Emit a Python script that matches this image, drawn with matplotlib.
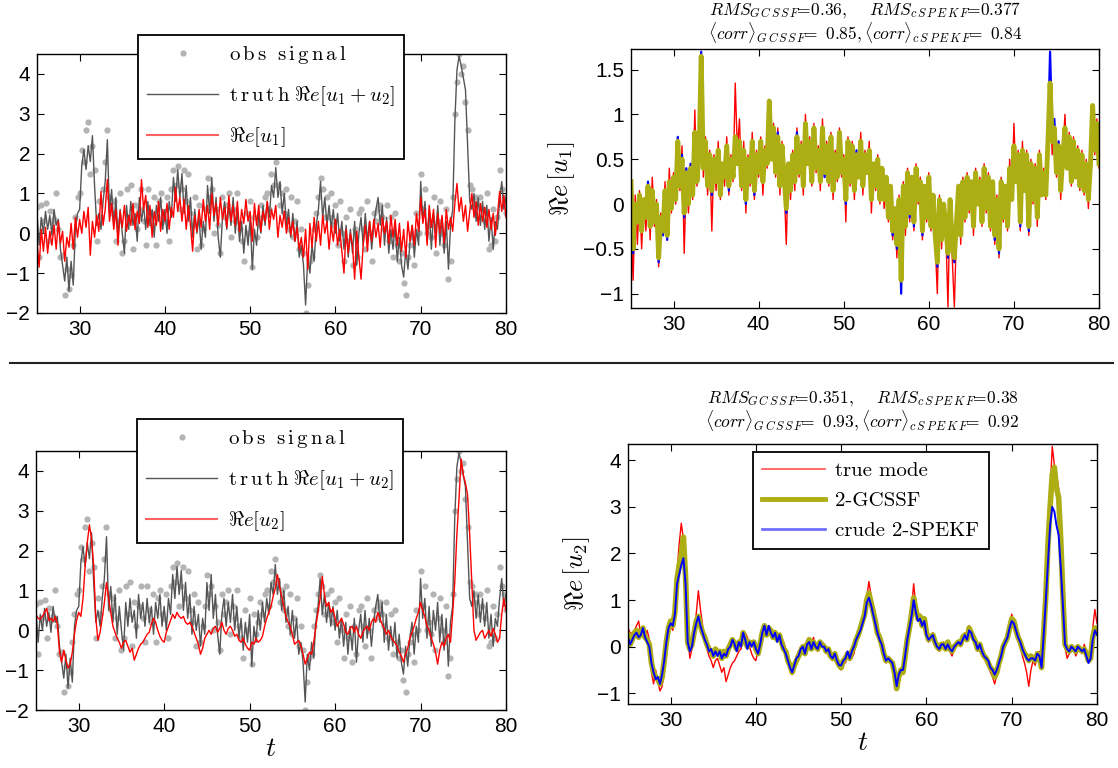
import numpy as np
import matplotlib.pyplot as plt
from matplotlib.lines import Line2D
from matplotlib.ticker import FuncFormatter

plt.rcParams['mathtext.fontset'] = 'cm'
plt.rcParams['font.family'] = ['Liberation Sans', 'DejaVu Sans']

# time grid of the stored samples
t = 25 + 0.25 * np.arange(221)

# Re[u1]: truth, 2-GCSSF estimate, crude 2-SPEKF estimate
u1_true = [
    -0.20, -0.85, 0.10, -0.45, 0.15, -0.50, 0.05, -0.30, 0.20, -0.40, 0.30, -0.25,
    0.05, -0.70, -0.10, -0.35, 0.25, -0.40, 0.40, -0.10, 0.35, 0.00, 0.55, 0.15,
    0.65, -0.55, 0.30, -0.10, 0.45, 0.05, 1.05, 0.20, 0.60, 1.35, 0.30, 0.75,
    0.10, 0.60, -0.30, 0.55, 0.15, 0.70, 0.05, 0.45, 0.20, 0.75, 0.10, 0.55,
    0.25, 1.35, 0.60, 0.95, 0.15, 0.70, -0.10, 0.55, 0.20, 0.80, 0.05, 0.60,
    0.30, 0.75, 0.10, 0.65, 0.40, 1.15, 0.55, 0.90, 0.30, 0.85, 0.10, 0.70,
    0.20, -0.45, 0.45, 0.05, 0.60, 0.15, 0.85, 0.30, 0.70, 0.10, 1.00, 0.45,
    0.75, 0.20, 0.90, 0.35, 0.65, 0.15, 0.95, 0.30, 0.70, 0.20, 0.80, 0.05,
    0.60, 0.25, 0.85, 0.30, 0.55, -0.20, 0.75, 0.20, 0.70, 0.05, 0.55, 0.30,
    0.80, 0.10, 0.60, 0.35, 0.70, -0.10, 0.45, 0.15, 0.55, 0.00, 0.40, -0.05,
    0.30, -0.20, 0.15, -0.40, -0.10, -0.60, 0.10, -0.90, 0.25, -0.35, 0.40, -0.20,
    0.30, -0.30, 0.45, 0.00, 0.30, -0.40, 0.20, -0.20, 0.35, -0.30, 0.10, -0.45,
    -1.00, 0.10, -0.50, 0.00, -0.30, -1.15, 0.05, -0.60, -1.15, -0.30, 0.20, -0.45,
    0.30, -0.20, 0.35, -0.10, 0.25, -0.35, 0.40, 0.00, 0.30, -0.25, 0.45, -0.10,
    0.35, -0.30, 0.25, -0.45, 0.10, -0.60, 0.30, -0.20, 0.20, -0.30, 0.50, 0.05,
    0.90, 0.25, 0.60, -0.30, 0.70, 0.15, 0.60, -0.35, 0.50, 0.00, 0.45, -0.25,
    0.60, 0.10, 0.40, 0.05, 0.75, 1.25, 0.55, 0.90, 0.30, 0.70, 0.05, 0.55,
    1.00, 0.40, 0.80, 0.20, 0.75, 0.30, 0.65, 0.15, 0.60, 0.10, 0.50, -0.05,
    0.45, 1.05, 0.55, 0.95, 0.40,
]
u1_gcssf = [
    0.25, -0.50, 0.00, -0.20, 0.10, -0.30, 0.05, -0.15, 0.20, -0.25, 0.15, -0.20,
    0.00, -0.60, -0.15, -0.30, 0.15, -0.35, 0.25, -0.05, 0.30, 0.05, 0.70, 0.20,
    0.50, -0.10, 0.35, 0.00, 0.40, 0.10, 0.80, 0.25, 0.55, 1.65, 0.40, 0.70,
    0.20, 0.55, 0.15, 0.50, 0.25, 0.60, 0.10, 0.45, 0.30, 0.65, 0.20, 0.50,
    0.30, 0.75, 0.45, 0.70, 0.20, 0.60, 0.05, 0.50, 0.25, 0.70, 0.15, 0.55,
    0.35, 0.70, 0.25, 0.60, 0.45, 1.15, 0.50, 0.85, 0.35, 0.75, 0.20, 0.65,
    0.30, -0.05, 0.45, 0.15, 0.55, 0.25, 0.75, 0.35, 0.65, 0.20, 0.90, 0.45,
    0.70, 0.25, 0.85, 0.40, 0.60, 0.25, 0.85, 0.35, 0.65, 0.25, 0.75, 0.15,
    0.55, 0.30, 0.80, 0.35, 0.50, 0.05, 0.70, 0.25, 0.65, 0.15, 0.55, 0.30,
    0.70, 0.20, 0.55, 0.35, 0.60, 0.05, 0.45, 0.20, 0.50, 0.05, 0.40, 0.05,
    0.30, -0.15, 0.20, -0.30, -0.05, -0.45, 0.05, -0.85, 0.20, -0.25, 0.35, -0.10,
    0.30, -0.20, 0.40, 0.05, 0.25, -0.30, 0.20, -0.15, 0.30, -0.25, 0.10, -0.35,
    -0.65, 0.05, -0.40, 0.00, -0.25, -0.55, 0.05, -0.45, -0.60, -0.20, 0.20, -0.35,
    0.25, -0.15, 0.30, -0.05, 0.25, -0.25, 0.35, 0.00, 0.25, -0.20, 0.40, -0.05,
    0.30, -0.25, 0.25, -0.35, 0.05, -0.50, 0.25, -0.15, 0.20, -0.25, 0.40, 0.05,
    0.65, 0.25, 0.55, -0.20, 0.60, 0.15, 0.55, -0.25, 0.45, 0.05, 0.40, -0.15,
    0.55, 0.10, 0.35, 0.10, 0.70, 1.35, 0.70, 0.85, 0.35, 0.65, 0.15, 0.55,
    0.85, 0.40, 0.75, 0.25, 0.70, 0.30, 0.60, 0.20, 0.55, 0.15, 0.45, 0.05,
    0.45, 1.10, 0.60, 0.90, 0.45,
]
u1_crude = [
    0.25, -0.55, 0.00, -0.20, 0.10, -0.30, 0.05, -0.15, 0.25, -0.25, 0.15, -0.20,
    0.00, -0.65, -0.15, -0.35, 0.15, -0.40, 0.25, -0.05, 0.30, 0.05, 0.75, 0.20,
    0.55, -0.15, 0.40, 0.00, 0.45, 0.10, 0.80, 0.25, 0.55, 1.70, 0.40, 0.70,
    0.20, 0.55, 0.10, 0.50, 0.25, 0.60, 0.10, 0.45, 0.30, 0.65, 0.15, 0.50,
    0.30, 0.75, 0.45, 0.70, 0.20, 0.60, 0.00, 0.50, 0.25, 0.70, 0.10, 0.55,
    0.35, 0.70, 0.25, 0.60, 0.45, 1.15, 0.50, 0.85, 0.35, 0.80, 0.20, 0.65,
    0.30, -0.10, 0.45, 0.15, 0.55, 0.25, 0.80, 0.35, 0.65, 0.20, 0.90, 0.45,
    0.70, 0.25, 0.85, 0.40, 0.60, 0.25, 0.85, 0.30, 0.65, 0.25, 0.75, 0.15,
    0.55, 0.30, 0.80, 0.35, 0.50, 0.00, 0.70, 0.25, 0.65, 0.15, 0.60, 0.30,
    0.70, 0.20, 0.55, 0.35, 0.60, 0.05, 0.45, 0.20, 0.50, 0.05, 0.40, 0.05,
    0.30, -0.15, 0.20, -0.35, -0.05, -0.50, 0.05, -1.00, 0.20, -0.25, 0.35, -0.15,
    0.30, -0.25, 0.40, 0.05, 0.25, -0.35, 0.20, -0.15, 0.30, -0.25, 0.10, -0.40,
    -0.70, 0.05, -0.40, 0.00, -0.25, -0.60, 0.05, -0.50, -0.65, -0.25, 0.20, -0.35,
    0.25, -0.15, 0.30, -0.05, 0.25, -0.25, 0.35, 0.00, 0.25, -0.20, 0.40, -0.05,
    0.30, -0.25, 0.25, -0.40, 0.05, -0.55, 0.25, -0.15, 0.20, -0.25, 0.40, 0.05,
    0.65, 0.25, 0.55, -0.25, 0.60, 0.15, 0.55, -0.30, 0.45, 0.05, 0.40, -0.15,
    0.55, 0.10, 0.35, 0.10, 0.75, 1.70, 0.80, 0.95, 0.40, 0.70, 0.15, 0.55,
    0.85, 0.40, 0.75, 0.25, 0.70, 0.30, 0.60, 0.20, 0.55, 0.15, 0.45, 0.05,
    0.45, 1.10, 0.60, 0.90, 0.50,
]

# Re[u2]: truth, 2-GCSSF estimate, crude 2-SPEKF estimate
u2_true = [
    0.40, 0.30, 0.28, 0.35, 0.45, 0.55, 0.25, 0.30, 0.22, 0.35, 0.15, -0.55,
    -0.80, -0.50, -0.75, -0.95, -0.85, -0.55, -0.10, 0.25, 0.45, 0.35, 0.80, 1.60,
    2.20, 2.65, 2.30, 1.60, 0.30, -0.25, -0.05, 0.30, 0.70, 1.20, 0.80, 0.45,
    0.10, -0.05, -0.20, -0.30, -0.45, -0.30, -0.25, -0.40, -0.55, -0.45, -0.75, -0.60,
    -0.45, -0.35, -0.30, -0.20, -0.10, -0.05, 0.15, 0.30, 0.20, 0.00, -0.15, -0.25,
    -0.30, -0.05, 0.10, 0.25, 0.40, 0.30, 0.45, 0.35, 0.30, 0.35, 0.20, 0.15,
    0.20, 0.10, -0.05, -0.20, -0.35, -0.60, -0.45, -0.20, -0.10, 0.00, -0.10, 0.05,
    0.10, -0.05, 0.05, 0.20, 0.00, -0.10, 0.05, 0.10, 0.00, -0.15, -0.10, -0.25,
    -0.30, -0.20, -0.35, -0.45, -0.50, -0.30, -0.35, -0.20, -0.30, -0.25, -0.15, 0.10,
    0.30, 0.45, 0.60, 0.85, 1.05, 1.40, 1.10, 0.85, 0.60, 0.35, 0.20, 0.10,
    -0.10, -0.35, -0.30, -0.25, -0.40, -0.60, -0.85, -0.70, -0.55, -0.60, -0.30, 0.10,
    0.45, 0.80, 1.35, 0.90, 0.60, 0.70, 0.45, 0.55, 0.30, 0.10, 0.20, 0.30,
    0.15, -0.05, -0.10, 0.05, 0.10, -0.05, 0.10, -0.10, -0.20, -0.05, 0.05, 0.10,
    0.00, 0.20, 0.30, 0.20, 0.45, 0.30, 0.15, 0.05, -0.10, 0.00, -0.15, -0.25,
    -0.30, -0.40, -0.55, -0.65, -0.80, -0.60, -0.45, -0.20, -0.05, 0.10, 0.30, 0.45,
    0.70, 0.50, 0.35, 0.10, 0.00, -0.20, -0.35, -0.55, -0.85, -0.50, -0.30, -0.40,
    -0.20, -0.10, -0.30, 0.40, 1.20, 2.40, 3.30, 4.30, 3.90, 3.70, 3.40, 2.40,
    1.20, 0.00, -0.25, -0.15, -0.05, 0.00, -0.20, -0.10, 0.00, -0.15, 0.05, -0.10,
    -0.30, -0.20, 0.40, 0.80, 0.50,
]
u2_gcssf = [
    0.25, 0.05, 0.15, 0.30, 0.35, 0.20, 0.30, 0.40, 0.20, 0.15, 0.05, -0.35,
    -0.55, -0.65, -0.70, -0.80, -0.65, -0.30, 0.10, 0.40, 0.55, 0.45, 0.75, 1.45,
    1.75, 2.00, 2.35, 1.50, 0.10, -0.05, 0.05, 0.30, 0.55, 0.65, 0.45, 0.30,
    0.20, 0.05, -0.05, -0.10, -0.20, -0.05, -0.15, -0.10, -0.25, -0.10, -0.20, -0.05,
    0.05, 0.15, 0.05, -0.05, 0.10, 0.05, 0.30, 0.15, 0.00, 0.10, 0.05, 0.10,
    -0.05, -0.15, 0.05, 0.30, 0.45, 0.25, 0.40, 0.35, 0.20, 0.30, 0.15, 0.25,
    0.10, -0.05, -0.10, -0.30, -0.40, -0.55, -0.40, -0.30, -0.20, -0.10, 0.00, -0.15,
    0.05, 0.15, -0.05, 0.10, 0.00, -0.05, 0.10, 0.05, 0.00, -0.10, -0.05, -0.20,
    -0.25, -0.15, -0.30, -0.40, -0.45, -0.30, -0.25, -0.15, -0.25, -0.10, 0.00, 0.15,
    0.25, 0.40, 0.55, 0.70, 1.00, 1.15, 0.95, 0.75, 0.55, 0.30, 0.20, 0.05,
    -0.15, -0.30, -0.25, -0.30, -0.35, -0.55, -0.90, -0.65, -0.50, -0.55, -0.20, 0.15,
    0.40, 0.70, 1.05, 0.80, 0.60, 0.65, 0.45, 0.60, 0.30, 0.15, 0.20, 0.25,
    0.10, 0.00, -0.05, 0.05, 0.05, -0.05, 0.10, -0.05, -0.10, 0.00, 0.05, 0.10,
    0.05, 0.20, 0.25, 0.15, 0.40, 0.30, 0.20, 0.10, -0.05, 0.05, -0.10, -0.20,
    -0.25, -0.35, -0.45, -0.50, -0.65, -0.55, -0.35, -0.20, 0.00, 0.10, 0.20, 0.40,
    0.60, 0.55, 0.35, 0.20, 0.10, -0.05, -0.15, -0.20, -0.30, -0.20, -0.25, -0.30,
    -0.15, -0.20, -0.45, 0.30, 1.10, 2.20, 3.00, 3.70, 3.85, 3.40, 3.20, 2.30,
    1.10, 0.05, -0.05, -0.10, 0.00, -0.05, -0.10, 0.00, -0.05, -0.10, -0.05, -0.15,
    -0.30, -0.25, 0.20, 0.40, 0.30,
]
u2_crude = [
    0.20, 0.05, 0.15, 0.25, 0.30, 0.20, 0.25, 0.40, 0.20, 0.10, 0.00, -0.35,
    -0.55, -0.70, -0.65, -0.80, -0.60, -0.30, 0.10, 0.40, 0.50, 0.45, 0.70, 1.35,
    1.55, 1.75, 1.90, 1.35, 0.10, -0.10, 0.00, 0.30, 0.50, 0.65, 0.45, 0.30,
    0.15, 0.05, -0.10, -0.05, -0.20, -0.10, -0.20, -0.10, -0.25, -0.15, -0.20, -0.05,
    0.00, 0.15, 0.05, -0.10, 0.10, 0.00, 0.30, 0.15, -0.05, 0.10, 0.00, 0.10,
    -0.05, -0.15, 0.05, 0.30, 0.45, 0.25, 0.45, 0.30, 0.20, 0.30, 0.10, 0.25,
    0.05, -0.05, -0.15, -0.30, -0.45, -0.55, -0.40, -0.25, -0.20, -0.05, 0.00, -0.15,
    0.05, 0.10, -0.05, 0.10, 0.00, -0.05, 0.10, 0.00, 0.00, -0.10, -0.05, -0.20,
    -0.25, -0.15, -0.30, -0.40, -0.40, -0.30, -0.25, -0.10, -0.25, -0.10, 0.00, 0.15,
    0.25, 0.35, 0.50, 0.65, 0.95, 1.05, 0.90, 0.70, 0.50, 0.30, 0.15, 0.05,
    -0.15, -0.30, -0.25, -0.30, -0.35, -0.55, -0.85, -0.60, -0.50, -0.50, -0.20, 0.15,
    0.40, 0.65, 1.00, 0.75, 0.55, 0.60, 0.45, 0.55, 0.25, 0.15, 0.20, 0.25,
    0.10, 0.00, -0.05, 0.05, 0.05, -0.05, 0.05, -0.05, -0.10, 0.00, 0.05, 0.10,
    0.05, 0.15, 0.25, 0.15, 0.35, 0.30, 0.15, 0.10, -0.05, 0.05, -0.10, -0.20,
    -0.25, -0.30, -0.45, -0.50, -0.60, -0.50, -0.35, -0.20, 0.00, 0.10, 0.20, 0.40,
    0.55, 0.50, 0.35, 0.20, 0.10, -0.05, -0.15, -0.25, -0.30, -0.25, -0.25, -0.30,
    -0.15, -0.20, -0.45, 0.25, 1.00, 1.80, 2.60, 3.00, 2.90, 2.60, 2.40, 1.70,
    0.90, 0.05, -0.05, -0.10, 0.00, -0.05, -0.10, 0.00, -0.05, -0.10, -0.05, -0.20,
    -0.35, -0.25, 0.15, 0.35, 0.25,
]

# truth signal Re[u1+u2] and its noisy observations
truth = [
    0.50, -0.30, 0.40, 0.00, 0.55, 0.10, 0.45, -0.05, 0.60, 0.20, 0.35, -0.40,
    -0.80, -1.20, -0.60, -1.45, -0.70, -1.30, 0.10, 0.50, 0.60, 1.70, 2.10, 1.60,
    2.20, 1.80, 2.45, 1.20, 0.20, 0.50, 0.10, 0.80, 1.30, 2.35, 0.50, 1.10,
    0.20, 0.90, -0.10, 0.60, 0.00, -0.50, 0.70, 0.10, 0.80, 0.20, 0.50, -0.20,
    0.90, 0.30, 0.70, 0.10, 0.80, 0.20, 0.60, -0.10, 0.70, 0.30, 0.90, 0.10,
    0.60, 0.00, 0.80, 0.40, 1.40, 0.80, 1.60, 0.90, 1.50, 0.50, 1.20, 0.30,
    0.90, -0.10, 0.60, 0.00, 0.40, -0.40, 0.30, -0.10, 1.20, 0.50, 1.40, 0.30,
    0.90, -0.10, -0.60, 0.40, 0.80, 0.10, 0.70, 0.20, 0.90, 0.00, 0.60, -0.20,
    0.30, -0.50, 0.20, -0.30, 0.40, -0.90, 0.10, -0.30, 0.50, 0.00, 0.70, 0.20,
    0.80, 0.40, 1.20, 0.90, 1.65, 0.90, 1.30, 0.50, 1.00, 0.20, 0.60, -0.10,
    0.50, -0.20, 0.30, -0.60, -0.30, -0.80, -1.80, -0.60, -1.00, -0.30, -0.70, 0.20,
    0.60, 1.30, 0.40, 0.90, 0.20, 0.70, 0.10, 0.60, 0.00, 0.50, -0.20, 0.30,
    -0.40, 0.20, -0.60, 0.10, -0.50, 0.30, -0.80, 0.00, 0.40, -0.30, 0.50, -0.20,
    0.30, -0.40, 0.20, 0.60, 0.90, 0.20, 0.70, -0.30, 0.40, -0.50, 0.10, -0.40,
    0.20, -0.70, -0.10, -0.80, -1.10, -0.40, -0.90, -0.20, 0.20, -0.60, 0.10, -0.30,
    1.30, 0.30, 0.80, -0.20, 0.60, -0.40, 0.50, 0.00, 0.70, -0.30, 0.40, -0.50,
    0.30, -0.90, 0.20, 0.60, 2.80, 4.10, 4.45, 4.20, 3.90, 3.60, 2.20, 0.80,
    0.60, 1.00, 0.30, 0.90, 0.20, 0.80, 0.10, 0.70, -0.20, 0.40, -0.40, 0.30,
    0.10, 0.80, 1.30, 0.60, 0.90,
]
obs = [
    0.65, -0.60, 0.70, 0.30, 0.75, -0.20, 0.55, 0.25, 0.35, 1.00, 0.10, -0.60,
    -0.55, -1.55, -0.90, -1.40, -1.05, -0.30, 0.40, 0.90, 1.00, 2.10, 1.80, 2.60,
    2.80, 1.50, 2.20, 1.60, -0.20, 0.80, 0.40, 1.10, 1.80, 2.60, 0.90, 0.50,
    0.80, -0.20, 0.30, 1.00, -0.50, -0.20, 1.10, 0.40, 1.20, -0.40, 0.70, 0.10,
    0.60, 1.10, 0.30, -0.30, 1.10, 0.50, 0.20, 0.90, -0.30, 0.80, 1.00, 0.40,
    0.30, 0.90, -0.20, 1.10, 1.60, 1.20, 1.70, 0.60, 1.10, 1.60, 0.80, 1.50,
    0.50, 0.20, 0.90, -0.40, 0.70, -0.30, 0.10, 0.60, 1.40, 0.90, 1.10, 0.00,
    0.60, 0.20, -0.50, 0.90, 0.40, 0.70, 1.00, -0.10, 0.60, 0.30, 1.00, 0.10,
    -0.20, -0.70, 0.50, 0.00, 0.80, -0.85, 0.40, -0.10, 0.20, 0.70, 0.40, 0.90,
    1.00, 0.60, 1.50, 1.20, 1.80, 1.20, 0.70, 1.00, 0.50, 1.10, 0.10, 0.90,
    -0.10, 0.30, 0.80, -0.40, 0.10, -0.50, -2.00, -1.30, -0.70, -0.60, 0.10, 0.50,
    0.90, 1.40, 1.10, 0.40, 0.90, 0.40, 1.00, 0.20, 0.70, -0.30, 0.80, 0.00,
    -0.70, 0.40, -0.20, 0.60, -0.80, 0.10, -0.60, 0.50, 0.60, 0.10, -0.40, 0.80,
    0.00, -0.70, 0.50, 0.30, 0.60, 0.70, 0.40, 0.10, 0.70, -0.20, 0.40, -0.60,
    0.50, -0.30, -0.70, -0.50, -1.25, -1.55, -0.60, -0.30, -0.10, -0.80, 0.50, 0.00,
    1.50, 0.60, 1.10, 0.00, 0.20, -0.10, 0.90, -0.50, 0.30, 0.80, 0.00, -0.30,
    0.60, -1.15, -0.70, 0.90, 3.00, 3.80, 4.50, 4.00, 4.20, 3.30, 2.60, 1.20,
    1.10, 0.70, 0.90, 0.40, 0.90, 0.60, 0.30, 1.00, -0.40, -0.30, 0.60, -0.20,
    0.40, 1.60, 1.10, 0.90, 0.50,
]

# filter skill scores shown above the right panels
scores_u1 = dict(rms_g='0.36', rms_c='0.377', corr_g='0.85', corr_c='0.84')
scores_u2 = dict(rms_g='0.351', rms_c='0.38', corr_g='0.93', corr_c='0.92')

OLIVE = '#adad14'
GREY_OBS = '#b4b4b4'
GREY_TRUTH = '#555555'

fig = plt.figure(figsize=(11.18, 7.68), dpi=100)
W, H = 1118.0, 768.0


def add_axes(x0, y0, x1, y1):
    return fig.add_axes([x0 / W, 1 - y1 / H, (x1 - x0) / W, (y1 - y0) / H])


def matlab_fmt(v, _):
    return ('%g' % v).replace('-', '\u2212')


def style(ax, ylim, yticks):
    ax.set_xlim(25, 80)
    ax.set_ylim(*ylim)
    ax.set_xticks([30, 40, 50, 60, 70, 80])
    ax.set_yticks(yticks)
    ax.yaxis.set_major_formatter(FuncFormatter(matlab_fmt))
    ax.tick_params(direction='in', top=True, right=True, length=5,
                   labelsize=15, width=0.8, pad=5)
    for sp in ax.spines.values():
        sp.set_linewidth(1.0)


def leg(ax, handles, labels, x, y, spacing=0.85, hlen=3.4):
    lg = ax.legend(handles, labels, loc='upper left',
                   bbox_to_anchor=(x / W, 1 - y / H), bbox_transform=fig.transFigure,
                   fancybox=False, framealpha=1, edgecolor='k',
                   prop={'family': 'cmr10', 'size': 15},
                   handlelength=hlen, handletextpad=0.5, borderpad=0.45,
                   labelspacing=spacing, borderaxespad=0, numpoints=1)
    lg.get_frame().set_linewidth(1.3)
    return lg


def score_title(ax, s, y1, y2):
    sub_g = r'{G\,C\,S\,S\,F}'
    sub_c = r'{c\,S\,P\,E\,K\,F}'
    line1 = (r'$RMS_%s\!\!=\!%s,\quad\ RMS_%s\!\!=\!%s$'
             % (sub_g, s['rms_g'], sub_c, s['rms_c']))
    line2 = (r'$\langle corr\rangle_%s\!\!=\ %s,\langle corr\rangle_%s\!\!=\ %s$'
             % (sub_g, s['corr_g'], sub_c, s['corr_c']))
    bb = ax.get_position()
    xc = (bb.x0 + bb.x1) / 2
    fig.text(xc, 1 - y1 / H, line1, ha='center', va='baseline', fontsize=12.5)
    fig.text(xc, 1 - y2 / H, line2, ha='center', va='baseline', fontsize=12.5)


obs_handle = Line2D([], [], ls='none', marker='o', color=GREY_OBS, ms=4.5, mec='none')
truth_handle = Line2D([], [], color=GREY_TRUTH, lw=1.0)
red_handle = Line2D([], [], color='#ff6060', lw=1.5)

# top left: observations, truth and Re[u1]
ax1 = add_axes(37, 54, 506, 313)
ax1.plot(t, obs, 'o', color=GREY_OBS, ms=4.5, mec='none')
ax1.plot(t, truth, '-', color=GREY_TRUTH, lw=1.0)
ax1.plot(t, u1_true, '-', color='r', lw=1.0)
style(ax1, (-2, 4.5), [-2, -1, 0, 1, 2, 3, 4])
leg(ax1, [obs_handle, truth_handle, red_handle],
    [r'$\mathrm{o\,b\,s\ \ s\,i\,g\,n\,a\,l}$',
     r'$\mathrm{t\,r\,u\,t\,h}\ \Re e[u_1+u_2]$',
     r'$\Re e[u_1]$'],
    138, 35)

# top right: Re[u1] and its filter estimates
ax2 = add_axes(631, 49, 1099, 308)
ax2.plot(t, u1_true, '-', color='r', lw=1.0)
ax2.plot(t, u1_crude, '-', color='b', lw=1.6)
ax2.plot(t, u1_gcssf, '-', color=OLIVE, lw=3.5)
style(ax2, (-1.16, 1.73), [-1, -0.5, 0, 0.5, 1, 1.5])
ax2.set_ylabel(r'$\Re e\,[u_1]$', fontsize=19, labelpad=4)
score_title(ax2, scores_u1, 15, 39)

# bottom left: observations, truth and Re[u2]
ax3 = add_axes(36, 451, 506, 710)
ax3.plot(t, obs, 'o', color=GREY_OBS, ms=4.5, mec='none')
ax3.plot(t, truth, '-', color=GREY_TRUTH, lw=1.0)
ax3.plot(t, u2_true, '-', color='r', lw=1.0)
style(ax3, (-2, 4.5), [-2, -1, 0, 1, 2, 3, 4])
ax3.set_xlabel(r'$t$', fontsize=20, labelpad=0)
leg(ax3, [obs_handle, truth_handle, red_handle],
    [r'$\mathrm{o\,b\,s\ \ s\,i\,g\,n\,a\,l}$',
     r'$\mathrm{t\,r\,u\,t\,h}\ \Re e[u_1+u_2]$',
     r'$\Re e[u_2]$'],
    137, 419)

# bottom right: Re[u2] and its filter estimates
ax4 = add_axes(628, 444, 1097, 704)
ax4.plot(t, u2_true, '-', color='r', lw=1.0)
ax4.plot(t, u2_gcssf, '-', color=OLIVE, lw=4.0)
ax4.plot(t, u2_crude, '-', color='b', lw=1.4)
style(ax4, (-1.23, 4.35), [-1, 0, 1, 2, 3, 4])
ax4.set_ylabel(r'$\Re e\,[u_2]$', fontsize=19, labelpad=4)
ax4.set_xlabel(r'$t$', fontsize=20, labelpad=0)
score_title(ax4, scores_u2, 403, 427)
leg(ax4,
    [Line2D([], [], color='#ff5050', lw=1.2),
     Line2D([], [], color=OLIVE, lw=3.5),
     Line2D([], [], color='#6f6fff', lw=2.0)],
    ['true mode', '2-GCSSF', 'crude 2-SPEKF'],
    753, 452, spacing=0.55, hlen=3.0)

# divider between the two rows
fig.add_artist(Line2D([10 / W, 1113 / W], [1 - 363 / H] * 2,
                      color='#222222', lw=1.5))

fig.savefig('out.png', dpi=100)
